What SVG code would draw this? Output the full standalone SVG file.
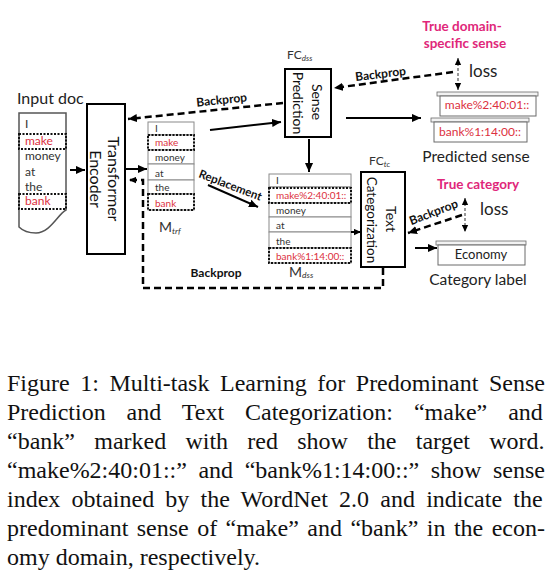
<svg xmlns="http://www.w3.org/2000/svg" width="554" height="580" viewBox="0 0 554 580">
<defs>
<style>
.sans{font-family:Lato,"Liberation Sans",sans-serif;}
.bold{font-family:Lato,"Liberation Sans",sans-serif;font-weight:bold;}
.cell{font-family:Lato,"Liberation Sans",sans-serif;font-size:10px;fill:#333;}
.red{fill:#dc3040;}
.pink{fill:#e0277a;font-family:Lato,"Liberation Sans",sans-serif;font-weight:bold;font-size:13.5px;}
.box{fill:#fff;stroke:#000;stroke-width:2;}
.row{fill:#fff;stroke:#8a8a8a;stroke-width:1;}
.dot{fill:none;stroke:#111;stroke-width:2;stroke-dasharray:2,1.5;}
.solid{fill:none;stroke:#000;stroke-width:2;}
.dash{fill:none;stroke:#000;stroke-width:2.5;stroke-dasharray:7,4;}
.loss{fill:none;stroke:#777;stroke-width:1.5;stroke-dasharray:3,2;}
.scroll{fill:#fff;stroke:#6a6a6a;stroke-width:1;}
.band{fill:#f2f2f2;stroke:#6a6a6a;stroke-width:0.8;}
.cap{font-family:"Liberation Serif","Times New Roman",serif;font-size:24px;fill:#111;}
</style>
<marker id="arr" viewBox="0 0 10 10" refX="10" refY="5" markerWidth="9" markerHeight="9" markerUnits="userSpaceOnUse" orient="auto-start-reverse"><path d="M0,0.5 L10,5 L0,9.5 Z" fill="#000"/></marker>
<marker id="arrs" viewBox="0 0 10 10" refX="10" refY="5" markerWidth="7" markerHeight="7" markerUnits="userSpaceOnUse" orient="auto-start-reverse"><path d="M0,0.5 L10,5 L0,9.5 Z" fill="#000"/></marker>
</defs>
<rect width="554" height="580" fill="#fff"/>

<g id="input-doc">
<text class="sans" x="17" y="104" font-size="16" fill="#222">Input doc</text>
<path d="M19,113 H66 V210 C58,214 50,233 36,233 C28,233 22,230 19,227 Z" fill="#fff" stroke="#555" stroke-width="1.5"/>
<text class="cell" x="25" y="128" style="font-size:12px">I</text>
<text class="cell red" x="25" y="145" style="font-size:12px">make</text>
<text class="cell" x="25" y="160" style="font-size:12px">money</text>
<text class="cell" x="25" y="176" style="font-size:12px">at</text>
<text class="cell" x="25" y="191" style="font-size:12px">the</text>
<text class="cell red" x="25" y="205" style="font-size:12px">bank</text>
<rect class="dot" x="19" y="134" width="47" height="15"/>
<rect class="dot" x="19" y="194" width="47" height="15"/>
</g>

<g id="encoder">
<rect class="box" x="87" y="104" width="38" height="150"/>
<text class="sans" font-size="16" fill="#111" text-anchor="middle" transform="translate(108,179) rotate(90)">Transformer</text>
<text class="sans" font-size="16" fill="#111" text-anchor="middle" transform="translate(89.5,179) rotate(90)">Encoder</text>
</g>

<g id="m-trf">
<rect class="row" x="148" y="122" width="46" height="13"/>
<rect class="row" x="148" y="135" width="46" height="15"/>
<rect class="row" x="148" y="150" width="46" height="14"/>
<rect class="row" x="148" y="164" width="46" height="16"/>
<rect class="row" x="148" y="180" width="46" height="14"/>
<rect class="row" x="148" y="194" width="46" height="16"/>
<text class="cell" x="155" y="132">I</text>
<text class="cell red" x="155" y="146">make</text>
<text class="cell" x="155" y="161">money</text>
<text class="cell" x="155" y="177">at</text>
<text class="cell" x="155" y="191">the</text>
<text class="cell red" x="155" y="207">bank</text>
<rect class="dot" x="148" y="135" width="46" height="15"/>
<rect class="dot" x="148" y="194" width="46" height="16"/>
<text class="sans" x="159" y="232" font-size="14" fill="#333">M<tspan font-size="8.5" font-style="italic" dy="2">trf</tspan></text>
</g>

<g id="sense-prediction">
<text class="sans" x="287" y="59" font-size="12" fill="#333">FC<tspan font-size="8" font-style="italic" dy="1.5">dss</tspan></text>
<rect class="box" x="285" y="69" width="46" height="68"/>
<text class="sans" font-size="14" fill="#111" text-anchor="middle" transform="translate(311.5,102) rotate(90)">Sense</text>
<text class="sans" font-size="14" fill="#111" text-anchor="middle" transform="translate(292.5,103) rotate(90)">Prediction</text>
</g>

<g id="m-dss">
<rect class="row" x="269" y="174" width="82" height="13"/>
<rect class="row" x="269" y="187" width="82" height="16"/>
<rect class="row" x="269" y="203" width="82" height="14"/>
<rect class="row" x="269" y="217" width="82" height="15"/>
<rect class="row" x="269" y="232" width="82" height="16"/>
<rect class="row" x="269" y="248" width="82" height="15"/>
<text class="cell" x="276" y="184">I</text>
<text class="cell red" x="276" y="199">make%2:40:01::</text>
<text class="cell" x="276" y="214">money</text>
<text class="cell" x="276" y="229">at</text>
<text class="cell" x="276" y="245">the</text>
<text class="cell red" x="276" y="260">bank%1:14:00::</text>
<rect class="dot" x="269" y="188" width="82" height="15"/>
<rect class="dot" x="269" y="248" width="82" height="15"/>
<text class="sans" x="289" y="277" font-size="14" fill="#333">M<tspan font-size="8.5" font-style="italic" dy="1">dss</tspan></text>
</g>

<g id="text-categorization">
<text class="sans" x="369" y="165" font-size="12" fill="#333">FC<tspan font-size="8" font-style="italic" dy="1.5">tc</tspan></text>
<rect class="box" x="361" y="172" width="44" height="95"/>
<text class="sans" font-size="14" fill="#111" text-anchor="middle" transform="translate(385.5,219) rotate(90)">Text</text>
<text class="sans" font-size="13.5" fill="#111" text-anchor="middle" transform="translate(367,220) rotate(90)">Categorization</text>
</g>

<g id="predicted-sense">
<rect class="band" x="437" y="92" width="101" height="4"/>
<rect class="scroll" x="440" y="96" width="96" height="20"/>
<text class="cell red" x="487" y="109" text-anchor="middle" style="font-size:12px">make%2:40:01::</text>
<rect class="band" x="431" y="118" width="98" height="4"/>
<rect class="scroll" x="434" y="122" width="93" height="20"/>
<text class="cell red" x="480" y="136" text-anchor="middle" style="font-size:12px">bank%1:14:00::</text>
<text class="sans" x="476" y="162" font-size="15.5" fill="#222" text-anchor="middle">Predicted sense</text>
</g>

<g id="true-sense">
<text class="pink" x="462" y="31" text-anchor="middle">True domain-</text>
<text class="pink" x="465" y="48" text-anchor="middle">specific sense</text>
<text class="sans" x="469" y="77" font-size="17" fill="#222">loss</text>
</g>

<g id="category-label">
<rect class="band" x="436" y="241" width="90" height="4"/>
<rect class="scroll" x="438" y="245" width="87" height="20"/>
<text class="sans" x="481" y="259" font-size="13" fill="#222" text-anchor="middle">Economy</text>
<text class="sans" x="478" y="285" font-size="15.5" fill="#222" text-anchor="middle">Category label</text>
</g>

<g id="true-category">
<text class="pink" x="478" y="189" text-anchor="middle">True category</text>
<text class="sans" x="480" y="215" font-size="17" fill="#222">loss</text>
</g>

<g id="connectors">
<path class="solid" d="M70,170 H85" marker-end="url(#arr)"/>
<path class="solid" d="M126,169 H147" marker-end="url(#arr)"/>
<path class="solid" d="M210,130 L281,122" marker-end="url(#arr)"/>
<path class="solid" d="M309,139 V172" marker-end="url(#arr)"/>
<path class="solid" d="M208,185 L258,207" marker-end="url(#arr)"/>
<path class="solid" d="M346,118 H421" marker-end="url(#arr)"/>
<path class="solid" d="M351,232 H361" marker-end="url(#arrs)"/>
<path class="solid" d="M415,248 H437" marker-end="url(#arr)"/>
<path class="dash" d="M283,103 L128,119" marker-end="url(#arr)"/>
<path class="dash" d="M453,72 L334,88" marker-end="url(#arr)"/>
<path class="dash" d="M462,215 L408,233" marker-end="url(#arr)"/>
<path class="dash" d="M383,268 V288 H143 V180 H129" marker-end="url(#arrs)"/>
<path class="loss" d="M458,58 V90" marker-start="url(#arrs)" marker-end="url(#arrs)"/>
<path class="loss" d="M465,198 V232" marker-start="url(#arrs)" marker-end="url(#arrs)"/>
<text class="bold" font-size="12" fill="#111" text-anchor="middle" transform="translate(222,104) rotate(-6)">Backprop</text>
<text class="bold" font-size="12" fill="#111" text-anchor="middle" transform="translate(381,78) rotate(-7)">Backprop</text>
<text class="bold" font-size="11.5" fill="#111" text-anchor="middle" transform="translate(229,189) rotate(21)">Replacement</text>
<text class="bold" font-size="12" fill="#111" text-anchor="middle" transform="translate(435,216) rotate(-21)">Backprop</text>
<text class="bold" x="216" y="277" font-size="12" fill="#111" text-anchor="middle">Backprop</text>
</g>

<g id="caption">
<text class="cap" x="7" y="391" style="word-spacing:4.57px">Figure 1: Multi-task Learning for Predominant Sense</text>
<text class="cap" x="7" y="420" style="word-spacing:14.95px">Prediction and Text Categorization: “make” and</text>
<text class="cap" x="7" y="449" style="word-spacing:13.26px">“bank” marked with red show the target word.</text>
<text class="cap" x="7" y="478" style="word-spacing:5.52px">“make%2:40:01::” and “bank%1:14:00::” show sense</text>
<text class="cap" x="7" y="507" style="word-spacing:5.18px">index obtained by the WordNet 2.0 and indicate the</text>
<text class="cap" x="7" y="536" style="word-spacing:2.44px">predominant sense of “make” and “bank” in the econ-</text>
<text class="cap" x="7" y="565">omy domain, respectively.</text>
</g>
</svg>
